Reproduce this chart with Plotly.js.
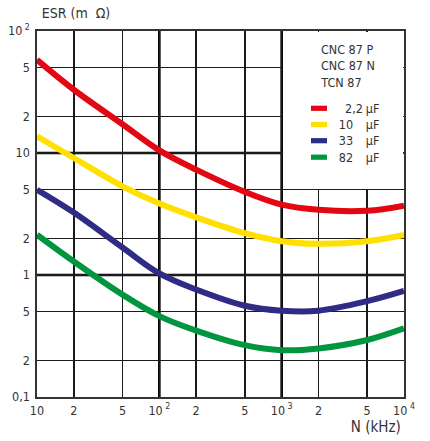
<!DOCTYPE html>
<html>
<head>
<meta charset="utf-8">
<script src="https://cdn.plot.ly/plotly-3.0.1.min.js"></script>
<style>
html,body{margin:0;padding:0;background:#fff;}
#chart{width:430px;height:441px;}
#chart text{font-stretch:condensed !important;}
</style>
</head>
<body>
<div id="chart"></div>
<script>
// Frequency (kHz)
const freq = [10, 20, 50, 100, 200, 500, 1000, 2000, 5000, 10000];
// ESR (mΩ) per capacitance
const esr_2_2uF = [58, 33, 17.2, 10.5, 7.3, 4.8, 3.77, 3.42, 3.36, 3.7];
const esr_10uF  = [13.7, 9.1, 5.33, 3.85, 2.97, 2.2, 1.89, 1.8, 1.89, 2.13];
const esr_33uF  = [5.0, 3.25, 1.68, 1.03, 0.76, 0.56, 0.51, 0.51, 0.61, 0.74];
const esr_82uF  = [2.14, 1.29, 0.69, 0.46, 0.35, 0.266, 0.242, 0.25, 0.293, 0.365];

const seriesNames = ["2,2", "10", "33", "82"];
const seriesColors = ["#E30613", "#FFE000", "#2E2C85", "#00963F"];
const seriesData = [esr_2_2uF, esr_10uF, esr_33uF, esr_82uF];

const xTickVals = [10, 20, 50, 100, 200, 500, 1000, 2000, 5000, 10000];
const xTickText = ["10", "2", "5", "10<sup> 2</sup>", "2", "5", "10<sup> 3</sup>", "2", "5", "10<sup> 4</sup>"];
const yTickVals = [0.1, 0.2, 0.5, 1, 2, 5, 10, 20, 50, 100];
const yTickText = ["0,1", "2", "5", "1", "2", "5", "10", "2", "5", "10<sup> 2</sup>"];

const legendHeader = ["CNC 87 P", "CNC 87 N", "TCN 87"];

const FONT = "'DejaVu Sans', sans-serif";
const TXT = "#333333";

const traces = seriesData.map((ys, i) => ({
  x: freq, y: ys, type: "scatter", mode: "lines",
  line: {color: seriesColors[i], width: 6, shape: "spline", smoothing: 1},
  name: seriesNames[i] + " µF", showlegend: false, hoverinfo: "skip"
}));

// pixel helpers for plot frame (paper coordinates)
const L = 37, R = 26, T = 31, B = 44, W = 430, H = 441;
const pw = W - L - R, ph = H - T - B;
const px = v => (v - L) / pw;
const py = v => (H - B - v) / ph;

const boxY0 = (Math.log10(5) + 1) / 3;
const shapes = [
  // decade grid lines (thick), beneath traces
  {type: "line", xref: "paper", yref: "paper", x0: 1/3, x1: 1/3, y0: 0, y1: 1, line: {color: "#000", width: 2.6}, layer: "between"},
  {type: "line", xref: "paper", yref: "paper", x0: 2/3, x1: 2/3, y0: 0, y1: 1, line: {color: "#000", width: 2.6}, layer: "between"},
  {type: "line", xref: "paper", yref: "paper", x0: 0, x1: 2/3, y0: 2/3, y1: 2/3, line: {color: "#000", width: 2.6}, layer: "between"},
  {type: "line", xref: "paper", yref: "paper", x0: 0, x1: 1, y0: 1/3, y1: 1/3, line: {color: "#000", width: 2.6}, layer: "between"},
  // legend panel (white) covering upper-right cell block, inset to keep edges
  {type: "rect", xref: "paper", yref: "paper", x0: 2/3 + 1.4 / pw, x1: 1 - 0.9 / pw, y0: boxY0 + 0.8 / ph, y1: 1 - 0.9 / ph,
   fillcolor: "#ffffff", line: {width: 0}, layer: "above"}
];

const annotations = [
  {text: "ESR (m  Ω)", xref: "paper", yref: "paper", x: px(36), y: py(13), xanchor: "left", yanchor: "middle",
   showarrow: false, font: {family: FONT, size: 14, color: TXT}},
  {text: "N (kHz)", xref: "paper", yref: "paper", x: px(406), y: py(427), xanchor: "right", yanchor: "middle",
   showarrow: false, font: {family: FONT, size: 15, color: TXT}}
];
const headerY = [49, 65.5, 82];
legendHeader.forEach((t, i) => annotations.push({
  text: t, xref: "paper", yref: "paper", x: px(316), y: py(headerY[i]), xanchor: "left", yanchor: "middle",
  showarrow: false, font: {family: FONT, size: 12.5, color: TXT}
}));
const itemY = [108.3, 124.5, 140.7, 157.2];
const numX = [342, 336, 336, 336];
seriesNames.forEach((n, i) => {
  shapes.push({type: "rect", xref: "paper", yref: "paper", x0: px(311), x1: px(327),
    y0: py(itemY[i] + 2.6), y1: py(itemY[i] - 2.6), fillcolor: seriesColors[i], line: {width: 0}, layer: "above"});
  annotations.push({text: n, xref: "paper", yref: "paper", x: px(numX[i]), y: py(itemY[i]), xanchor: "left", yanchor: "middle",
    showarrow: false, font: {family: FONT, size: 12.5, color: TXT}});
  annotations.push({text: "µF", xref: "paper", yref: "paper", x: px(363), y: py(itemY[i]), xanchor: "left", yanchor: "middle",
    showarrow: false, font: {family: FONT, size: 12.5, color: TXT}});
});

const axisCommon = {
  type: "log", showgrid: true, gridcolor: "#1a1a1a", gridwidth: 1.4,
  showline: true, linecolor: "#333", linewidth: 1.6, mirror: true,
  ticks: "", zeroline: false, tickmode: "array", fixedrange: true,
  tickfont: {family: FONT, size: 12.5, color: TXT}
};

const layout = {
  width: W, height: H,
  margin: {l: L, r: R, t: T, b: B, pad: 0},
  paper_bgcolor: "#fff", plot_bgcolor: "#fff",
  showlegend: false, hovermode: false,
  xaxis: Object.assign({}, axisCommon, {range: [1, 4], tickvals: xTickVals, ticktext: xTickText, ticklabelstandoff: 1}),
  yaxis: Object.assign({}, axisCommon, {range: [-1, 2], tickvals: yTickVals, ticktext: yTickText, ticklabelstandoff: 3}),
  shapes: shapes,
  annotations: annotations
};

Plotly.newPlot("chart", traces, layout, {staticPlot: true, displayModeBar: false});
</script>
</body>
</html>
